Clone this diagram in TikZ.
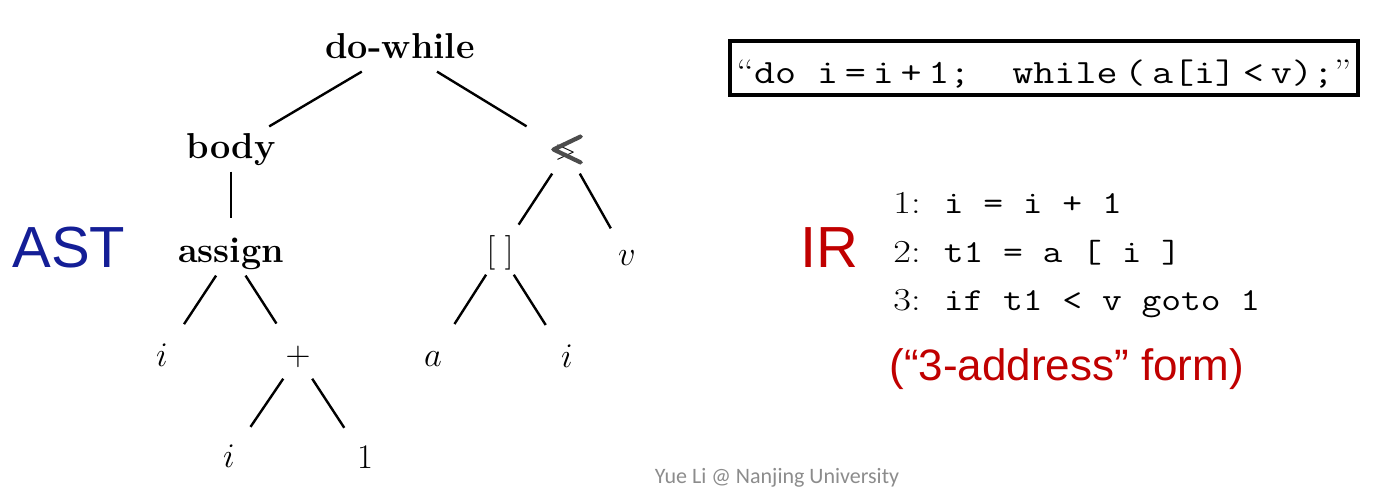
\documentclass[tikz,border=0pt]{standalone}
\usepackage{fontspec}
\newfontfamily\arialfont{Liberation Sans}
\newfontfamily\footfont{Carlito}
\newfontfamily\heavyfont{Latin Modern Roman}[FakeBold=4]
\definecolor{astblue}{RGB}{20,30,150}
\definecolor{irred}{RGB}{192,0,0}
\definecolor{footgray}{RGB}{140,140,140}
\tikzset{
  op/.style={font=\fontsize{18}{20}\selectfont\bfseries, text height=12.6pt,
    text depth=3.6pt, inner sep=3pt, minimum width=40pt},
  leaf/.style={font=\fontsize{17}{20}\selectfont, text height=11.9pt,
    text depth=3.4pt, inner sep=3pt, minimum width=24pt},
  irline/.style={anchor=base west, inner sep=0pt, font=\fontsize{16}{18}\selectfont},
  bigword/.style={anchor=base west, inner sep=0pt, font=\arialfont\fontsize{29}{30}\selectfont},
}
\begin{document}
\begin{tikzpicture}[x=0.5pt,y=-0.5pt]
  \useasboundingbox (0,0) rectangle (1381,500);
  \draw
    (400,49) node[op] (dowhile){do-while}
    (231,149) node[op] (body){body}
    (567,151) node[op] (lt){\makebox[0pt][l]{\hspace{3.5pt}\raisebox{0.5pt}{\scalebox{0.8}{$>$}}}{\color{black!70}\heavyfont\fontsize{21}{22}\selectfont <}}
    (231,253) node[op] (assign){assign}
    (500,253) node[leaf] (idx){$[\;]$}
    (627,257) node[leaf] (v){$v$}
    (162,357.5) node[leaf] (i1){$i$}
    (298,357) node[leaf] (plus){$+$}
    (433,357.5) node[leaf] (a){$a$}
    (567,358.5) node[leaf] (i2){$i$}
    (229,458.5) node[leaf] (i3){$i$}
    (365,459.5) node[leaf] (one){$1$};
  \begin{scope}[line width=1.2pt]
    \draw (dowhile) to (body);
    \draw[shorten >=2pt] (dowhile) to (lt);
    \draw[shorten >=6pt] (body) to (assign);
    \draw[shorten >=4pt] (lt) to (idx);
    \draw[shorten >=4pt] (lt) to (v);
    \draw[shorten >=7pt] (assign) to (i1);
    \draw[shorten >=7pt] (assign) to (plus);
    \draw[shorten >=7pt] (idx) to (a);
    \draw[shorten >=7pt] (idx) to (i2);
    \draw[shorten >=6pt] (plus) to (i3);
    \draw[shorten >=6pt] (plus) to (one);
  \end{scope}
  % source line and its IR
  \node[draw, line width=2pt, minimum width=314pt, minimum height=27pt,
    inner sep=0pt, text height=15pt, text depth=0pt,
    font=\fontsize{17}{20}\selectfont] (src) at (1044,68)
    {\scalebox{1.2}[1]{“\texttt{do i\,=\,i\,+\,1;~ while\,(\,a[i]\,<\,v);}”}};
  \node[bigword, text=astblue] (ast) at (12,267) {AST};
  \node[bigword, text=irred] (ir) at (800,267) {IR};
  \node[irline] (ir1) at (893,213) {\scalebox{1.2}[1]{1:\ \ \texttt{i = i + 1}}};
  \node[irline] (ir2) at (893,262) {\scalebox{1.2}[1]{2:\ \ \texttt{t1 = a [ i ]}}};
  \node[irline] (ir3) at (893,310) {\scalebox{1.2}[1]{3:\ \ \texttt{if t1 < v goto 1}}};
  \node[anchor=base west, inner sep=0pt, font=\arialfont\fontsize{22}{24}\selectfont,
    text=irred] (form) at (889,380) {(“3-address” form)};
  \node[anchor=base, inner sep=0pt, font=\footfont\fontsize{11}{12}\selectfont,
    text=footgray] (foot) at (777,483) {Yue Li @ Nanjing University};
\end{tikzpicture}
\end{document}
